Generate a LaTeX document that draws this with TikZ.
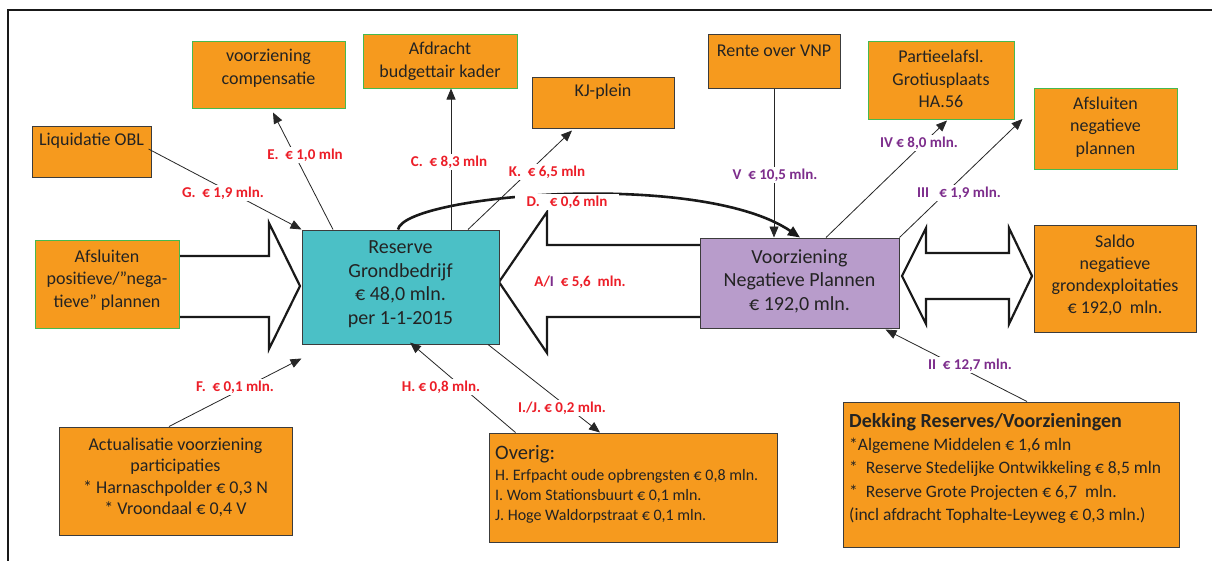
\documentclass[tikz,border=0pt]{standalone}
\usepackage{fontspec}
\setmainfont{Carlito}
\usetikzlibrary{arrows.meta}
\definecolor{orng}{RGB}{246,154,30}
\definecolor{grn}{RGB}{70,185,80}
\definecolor{dkb}{RGB}{60,60,60}
\definecolor{teal}{RGB}{75,192,198}
\definecolor{lilac}{RGB}{184,156,203}
\definecolor{redl}{RGB}{236,30,40}
\definecolor{purl}{RGB}{125,45,140}
\definecolor{txtc}{RGB}{35,35,35}
\begin{document}
\begin{tikzpicture}[x=1pt,y=-1pt,
  box/.style={draw=dkb, fill=orng, line width=1pt, inner sep=0pt},
  gbox/.style={box, draw=grn},
  txt/.style={align=center, text=txtc, inner sep=0pt, font=\fontsize{18}{22.5}\selectfont},
  bigtxt/.style={txt, font=\fontsize{20}{23.5}\selectfont},
  lab/.style={font=\fontsize{15}{16}\selectfont\bfseries, text=redl, fill=white, inner sep=1.5pt},
  plab/.style={lab, text=purl},
  conn/.style={line width=0.8pt, draw=black!85},
  arr/.style={conn, -{Triangle[length=11pt,width=9pt]}},
  big/.style={draw=black!90, line width=2.2pt, fill=white, line join=miter},
]
\useasboundingbox (0,0) rectangle (1212,560);
\fill[white] (0,0) rectangle (1212,560);
\draw[line width=2pt, black!90] (8,562) -- (8,10) -- (1214,10);

% big arrows
\draw[big] (179,256) -- (269,256) -- (269,223) -- (300,286) -- (269,349) -- (269,317) -- (179,317);
\draw[big] (700,245) -- (547,245) -- (547,212) -- (499,282) -- (547,353) -- (547,317) -- (700,317);
\draw[big] (902,276) -- (926,228) -- (926,253) -- (1009,253) -- (1009,228) -- (1032,276)
  -- (1009,324) -- (1009,299) -- (926,299) -- (926,324) -- cycle;

% boxes
\node[gbox, minimum width=153pt, minimum height=67pt] (comp) at (268.5,74.5) {};
\node[txt] (comp-t) at (268.5,68.5) {voorziening\\compensatie};
\node[gbox, minimum width=154pt, minimum height=54pt] (afd) at (440,61) {};
\node[txt] (afd-t) at (440,61.5) {Afdracht\\budgettair kader};
\node[box, minimum width=142pt, minimum height=51pt] (kj) at (603,102.5) {};
\node[txt] (kj-t) at (603,92) {KJ-plein};
\node[box, minimum width=132pt, minimum height=54pt] (rente) at (774,61) {};
\node[txt] (rente-t) at (774,51) {Rente over VNP};
\node[gbox, minimum width=146pt, minimum height=78pt] (part) at (941,80) {};
\node[txt] (part-t) at (941,79) {Partieelafsl.\\Grotiusplaats\\HA.56};
\node[gbox, minimum width=143pt, minimum height=81pt] (afsn) at (1105.5,128.5) {};
\node[txt] (afsn-t) at (1105.5,127) {Afsluiten\\negatieve\\plannen};
\node[box, minimum width=119pt, minimum height=51pt] (liq) at (91.5,151.5) {};
\node[txt] (liq-t) at (91.5,141) {Liquidatie OBL};
\node[gbox, minimum width=144pt, minimum height=88pt] (afsp) at (107,284) {};
\node[txt] (afsp-t) at (107,280) {Afsluiten\\positieve/\symbol{34}nega-\\tieve\symbol{34} plannen};
\node[box, fill=teal, minimum width=197pt, minimum height=114pt] (res) at (400.5,287) {};
\node[bigtxt] (res-t) at (400.5,284) {Reserve\\Grondbedrijf\\€ 48,0 mln.\\per 1-1-2015};
\node[box, fill=lilac, minimum width=199pt, minimum height=90pt] (vnp) at (799.5,283) {};
\node[bigtxt] (vnp-t) at (799.5,281) {Voorziening\\Negatieve Plannen\\€ 192,0 mln.};
\node[box, minimum width=162pt, minimum height=107pt] (saldo) at (1115,278.5) {};
\node[txt, font=\fontsize{18}{22}\selectfont] (saldo-t) at (1115,275) {Saldo\\negatieve\\grondexploitaties\\€ 192,0\ \ mln.};
\node[box, minimum width=233pt, minimum height=108pt] (act) at (175.5,481) {};
\node[txt, font=\fontsize{18}{21.5}\selectfont] (act-t) at (175.5,477.5) {Actualisatie voorziening\\participaties\\* Harnaschpolder € 0,3 N\\* Vroondaal € 0,4 V};
\node[box, minimum width=288pt, minimum height=109pt] (ov) at (633,487.5) {};
\node[txt, align=left, anchor=north west, font=\fontsize{16}{20}\selectfont] (ov-t) at (495,445)
  {{\fontsize{20.5}{24}\selectfont Overig:}\\[1pt]
   H. Erfpacht oude opbrengsten € 0,8 mln.\\
   I. Wom Stationsbuurt € 0,1 mln.\\
   J. Hoge Waldorpstraat € 0,1 mln.};
\node[box, minimum width=336pt, minimum height=145pt] (dek) at (1011,474.5) {};
\node[txt, align=left, anchor=north west, font=\fontsize{17.5}{23.3}\selectfont] (dek-t) at (849,413)
  {{\fontsize{20}{23}\selectfont\bfseries Dekking Reserves/Voorzieningen}\\
   *Algemene Middelen € 1,6 mln\\
   *\ \ Reserve Stedelijke Ontwikkeling € 8,5 mln\\
   *\ \ Reserve Grote Projecten € 6,7\ \ mln.\\
   (incl afdracht Tophalte-Leyweg € 0,3 mln.)};

% curved D arrow
\draw[line width=2.6pt, black!90, -{Triangle[length=12pt,width=10pt]}]
  ([xshift=-2.5pt]res.north) .. controls +(7,-35) and +(-100,-68) .. ([xshift=0.5pt]vnp.north);
\node[lab, inner xsep=12pt] (dl) at (567,202) {D.\ \ \ € 0,6 mln};

% thin connectors
\draw[arr] ([xshift=-67.5pt]res.north) -- ([xshift=4.5pt,yshift=-4pt]comp.south);
\node[lab] (el) at (305,155) {E.\ \ € 1,0 mln};
\draw[arr] ([xshift=-3pt,yshift=2.5pt]liq.east) -- (res.north west);
\node[lab] (gl) at (223,193) {G.\ \ € 1,9 mln.};
\draw[arr] ([xshift=50.5pt]res.north) -- ([xshift=11pt]afd.south);
\node[lab] (cl) at (449,162) {C.\ \ € 8,3 mln};
\draw[arr] ([xshift=67.5pt]res.north) -- ([xshift=-31pt,yshift=-2pt]kj.south);
\node[lab] (kl) at (547,172) {K.\ \ € 6,5 mln};
\draw[arr] (rente.south) -- ([xshift=-25.5pt]vnp.north);
\node[plab] (vl) at (775,175) {V\ \ € 10,5 mln.};
\draw[arr] ([xshift=26.5pt]vnp.north) -- ([xshift=6pt,yshift=-1pt]part.south);
\node[plab] (ivl) at (919,143) {IV € 8,0 mln.};
\draw[arr] (vnp.north east) -- ([xshift=-11pt,yshift=9.5pt]afsn.west);
\node[plab] (iiil) at (959,193) {III\ \ \ € 1,9 mln.};
\draw[arr] ([xshift=16pt]dek.north) -- ([xshift=-14pt,yshift=-1pt]vnp.south east);
\node[plab] (iil) at (970,365) {II\ \ € 12,7 mln.};
\draw[arr] ([xshift=-6.5pt]act.north) -- ([yshift=-14pt]res.south west);
\node[lab] (fl) at (235,387) {F.\ \ € 0,1 mln.};
\draw[arr] ([xshift=27pt]ov.north west) -- ([xshift=9.5pt,yshift=2pt]res.south);
\node[lab] (hl) at (441,387) {H. € 0,8 mln.};
\draw[arr] ([xshift=87.5pt]res.south) -- ([xshift=-33pt]ov.north);
\node[lab] (ijl) at (562,408) {I./J. € 0,2 mln.};
\node[lab, fill=none] (ail) at (580,282) {A/\textcolor{purl}{I}\ \ € 5,6\ \ mln.};
\end{tikzpicture}
\end{document}
